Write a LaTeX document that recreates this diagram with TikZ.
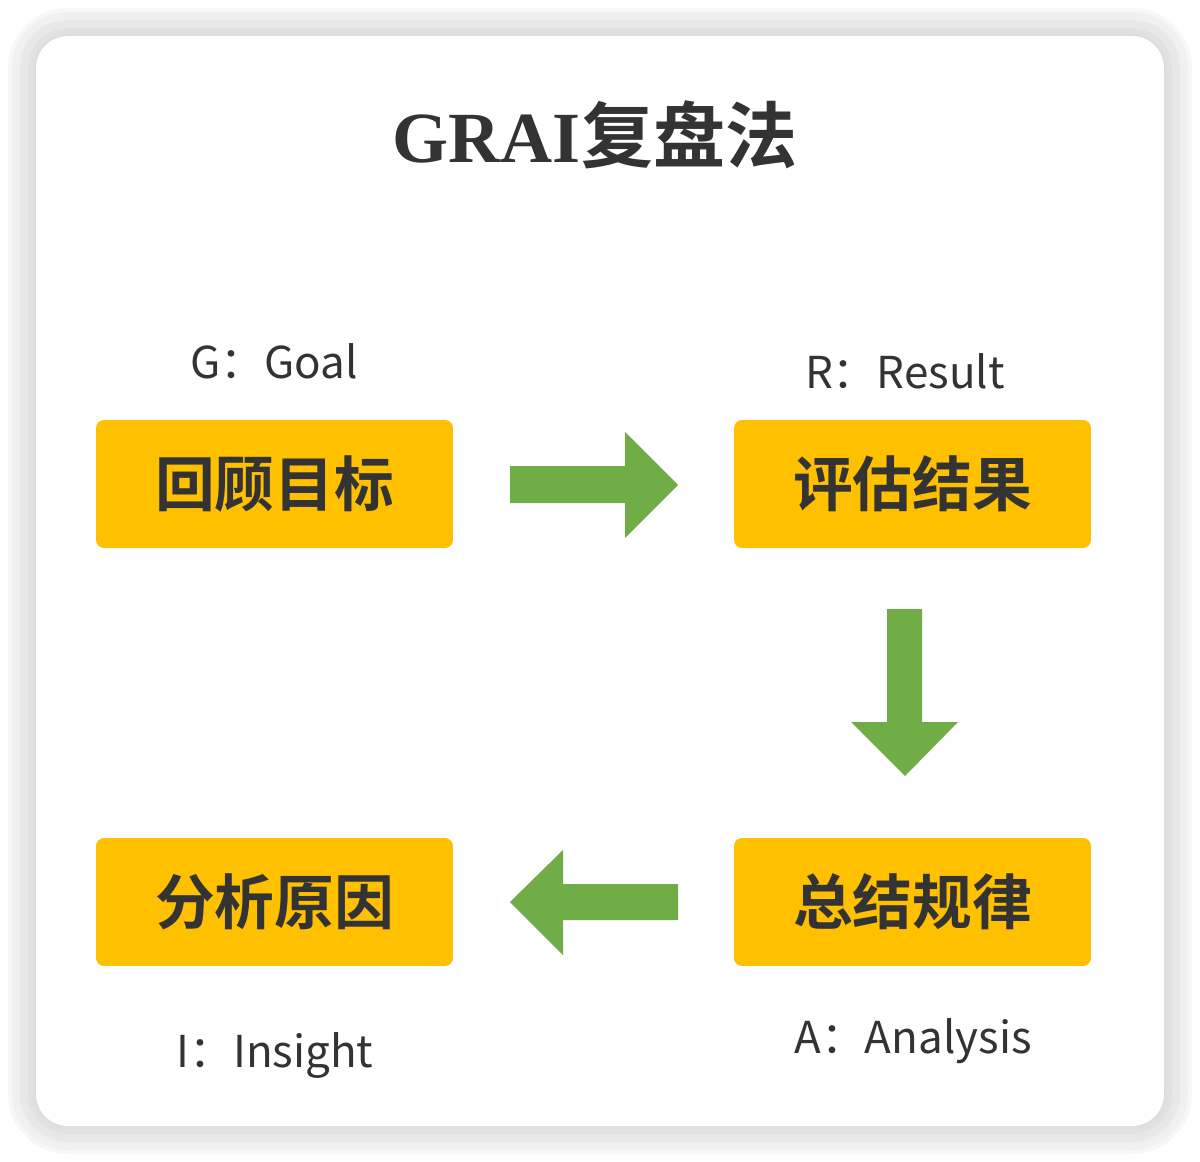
\documentclass[tikz,border=0pt]{standalone}
\usepackage{fontspec}
\setmainfont{Liberation Serif}
\newfontfamily\cjk{Noto Sans CJK SC}
\newfontfamily\cjkb{Noto Sans CJK SC Bold}
\begin{document}
\begin{tikzpicture}[x=0.02cm,y=-0.02cm]
\definecolor{txt}{HTML}{333333}
\definecolor{boxc}{HTML}{FFC000}
\definecolor{arr}{HTML}{70AD47}
\tikzset{
  stepbox/.style={fill=boxc,rounded corners=0.16cm,minimum width=7.14cm,minimum height=2.56cm,inner sep=0pt,text=txt,font=\cjkb\fontsize{34}{40}\selectfont},
  lbl/.style={text=txt,font=\cjk\fontsize{25}{30}\selectfont,inner sep=0pt},
  garrow/.style={fill=arr,draw=none}
}
\useasboundingbox (0,0) rectangle (1200,1162);
\fill[white] (0,0) rectangle (1200,1162);
% shadow
\foreach \i/\g in {28/97,24/95.5,20/94,16/92.5,12/91,8/89.5,4/88,1/86.5}{
  \pgfmathsetmacro{\r}{32+\i}
  \fill[black!\the\numexpr100-\g\relax!white, rounded corners=\r*0.02cm] (36-\i,36-\i) rectangle (1164+\i,1126+\i);
}
\fill[white, rounded corners=0.64cm] (36,36) rectangle (1164,1126);
% title
\node[text=txt,inner sep=0pt] (title) at (595,135) {\fontsize{41}{46}\selectfont\textbf{GRAI}\cjkb 复盘法};
% boxes
\node[stepbox] (g) at (274.5,484) {回顾目标};
\node[stepbox] (r) at (912.5,484) {评估结果};
\node[stepbox] (i) at (274.5,902) {分析原因};
\node[stepbox] (a) at (912.5,902) {总结规律};
% labels
\node[lbl] (lg) at (274,361) {G：Goal};
\node[lbl] (lr) at (905,371) {R：Result};
\node[lbl] (li) at (275,1055) {I：Insight};
\node[lbl] (la) at (913,1041) {A：Analysis};
% arrows
\fill[garrow] (510,466) -- (625,466) -- (625,432) -- (678,485) -- (625,538) -- (625,503) -- (510,503) -- cycle;
\fill[garrow] (887,609) -- (922,609) -- (922,722) -- (958,722) -- (905,776) -- (851,722) -- (887,722) -- cycle;
\fill[garrow] (678,884) -- (563,884) -- (563,850) -- (510,902) -- (563,955) -- (563,920) -- (678,920) -- cycle;
\end{tikzpicture}
\end{document}
